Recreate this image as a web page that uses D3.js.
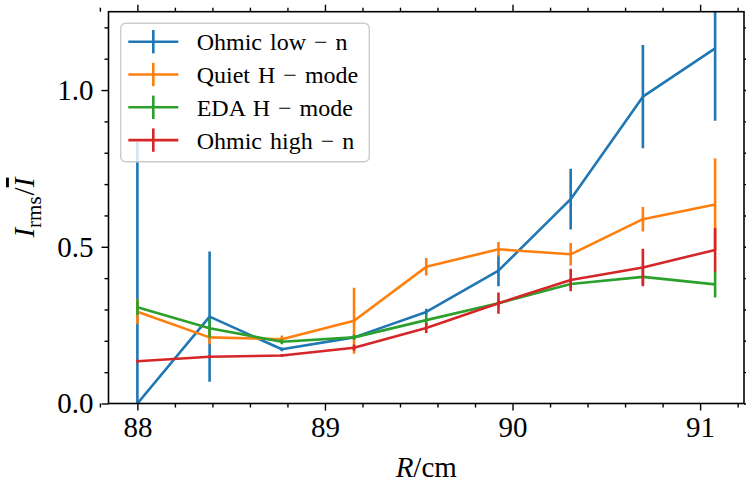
<!DOCTYPE html>
<html>
<head>
<meta charset="utf-8">
<script src="https://cdn.jsdelivr.net/npm/d3@7"></script>
<style>
  body { margin: 0; background: #fff; }
  text { font-family: "Liberation Serif", "DejaVu Serif", serif; fill: #000; }
</style>
</head>
<body>
<div id="chart"></div>
<script>
// radial positions (cm) and fluctuation levels for each regime
const radius = [88, 88.385, 88.77, 89.155, 89.54, 89.925, 90.31, 90.695, 91.08];

const ohmicLow = [0.0, 0.277, 0.173, 0.211, 0.292, 0.424, 0.652, 0.979, 1.133];
const ohmicLowErr = [0.835, 0.208, 0.006, 0.006, 0.01, 0.05, 0.097, 0.165, 0.231];

const quietH = [0.293, 0.211, 0.205, 0.264, 0.436, 0.492, 0.476, 0.588, 0.635];
const quietHErr = [0.04, 0.022, 0.012, 0.105, 0.028, 0.023, 0.036, 0.039, 0.147];

const edaH = [0.307, 0.240, 0.197, 0.211, 0.266, 0.320, 0.381, 0.404, 0.380];
const edaHErr = [0.025, 0.03, 0.008, 0.008, 0.016, 0.01, 0.012, 0.025, 0.042];

const ohmicHigh = [0.135, 0.149, 0.153, 0.178, 0.241, 0.320, 0.394, 0.434, 0.490];
const ohmicHighErr = [0.005, 0.005, 0.005, 0.01, 0.016, 0.034, 0.036, 0.06, 0.07];

const seriesNames = ["Ohmic low \u2212 n", "Quiet H \u2212 mode", "EDA H \u2212 mode", "Ohmic high \u2212 n"];
const seriesColors = ["#1f77b4", "#ff7f0e", "#2ca02c", "#d62728"];

const xTicks = [88, 89, 90, 91];
const yTicks = [0, 0.5, 1.0];

const series = [
  { values: ohmicLow, err: ohmicLowErr },
  { values: quietH, err: quietHErr },
  { values: edaH, err: edaHErr },
  { values: ohmicHigh, err: ohmicHighErr }
].map((s, i) => ({ ...s, name: seriesNames[i], color: seriesColors[i] }));

const width = 746;
const height = 484;
const plotLeft = 108.5, plotRight = 744, plotTop = 11.7, plotBottom = 403.5;
const serif = "'Liberation Serif', 'DejaVu Serif', serif";

const svg = d3.select("#chart")
  .append("svg")
  .attr("width", width)
  .attr("height", height);

// matplotlib-like 5% margins on x
const span = d3.max(radius) - d3.min(radius);
const x = d3.scaleLinear()
  .domain([d3.min(radius) - 0.05 * span, d3.max(radius) + 0.05 * span])
  .range([plotLeft, plotRight]);
const y = d3.scaleLinear().domain([0, 1.25]).range([plotBottom, plotTop]);

svg.append("clipPath").attr("id", "plot-clip")
  .append("rect")
  .attr("x", plotLeft).attr("y", plotTop)
  .attr("width", plotRight - plotLeft).attr("height", plotBottom - plotTop);

const plot = svg.append("g").attr("clip-path", "url(#plot-clip)");

const line = d3.line().x((d, i) => x(radius[i])).y(d => y(d));

series.forEach(s => {
  const g = plot.append("g");
  g.append("path")
    .datum(s.values)
    .attr("d", line)
    .attr("fill", "none")
    .attr("stroke", s.color)
    .attr("stroke-width", 2.6)
    .attr("stroke-linejoin", "round");
  g.selectAll("line.bar")
    .data(s.values)
    .enter()
    .append("line")
    .attr("class", "bar")
    .attr("x1", (d, i) => x(radius[i]))
    .attr("x2", (d, i) => x(radius[i]))
    .attr("y1", (d, i) => y(d - s.err[i]))
    .attr("y2", (d, i) => y(d + s.err[i]))
    .attr("stroke", s.color)
    .attr("stroke-width", 2.6);
});

// axes: ticks out on all four sides, minor ticks every 0.2 / 0.1
const xMinor = d3.range(87.8, 91.3, 0.2).map(v => +v.toFixed(1)).filter(v => !xTicks.includes(v));
const yMinor = d3.range(0, 1.26, 0.1).map(v => +v.toFixed(1)).filter(v => !yTicks.includes(v));

function styleAxis(g) {
  g.select(".domain").remove();
  g.selectAll("line").attr("stroke", "#000").attr("stroke-width", 1.4);
}

const tickFont = "29px";

svg.append("g").attr("transform", `translate(0,${plotBottom})`)
  .call(d3.axisBottom(x).tickValues(xTicks).tickSize(7).tickPadding(6).tickFormat(d3.format("d")))
  .call(styleAxis)
  .selectAll("text").style("font-size", tickFont).style("font-family", serif);
svg.append("g").attr("transform", `translate(0,${plotBottom})`)
  .call(d3.axisBottom(x).tickValues(xMinor).tickSize(4).tickFormat(""))
  .call(styleAxis);
svg.append("g").attr("transform", `translate(0,${plotTop})`)
  .call(d3.axisTop(x).tickValues(xTicks).tickSize(7).tickFormat(""))
  .call(styleAxis);
svg.append("g").attr("transform", `translate(0,${plotTop})`)
  .call(d3.axisTop(x).tickValues(xMinor).tickSize(4).tickFormat(""))
  .call(styleAxis);

svg.append("g").attr("transform", `translate(${plotLeft},0)`)
  .call(d3.axisLeft(y).tickValues(yTicks).tickSize(7).tickPadding(8).tickFormat(d3.format(".1f")))
  .call(styleAxis)
  .selectAll("text").style("font-size", tickFont).style("font-family", serif);
svg.append("g").attr("transform", `translate(${plotLeft},0)`)
  .call(d3.axisLeft(y).tickValues(yMinor).tickSize(4).tickFormat(""))
  .call(styleAxis);
svg.append("g").attr("transform", `translate(${plotRight},0)`)
  .call(d3.axisRight(y).tickValues(yTicks).tickSize(7).tickFormat(""))
  .call(styleAxis);
svg.append("g").attr("transform", `translate(${plotRight},0)`)
  .call(d3.axisRight(y).tickValues(yMinor).tickSize(4).tickFormat(""))
  .call(styleAxis);

// frame
svg.append("rect")
  .attr("x", plotLeft).attr("y", plotTop)
  .attr("width", plotRight - plotLeft).attr("height", plotBottom - plotTop)
  .attr("fill", "none").attr("stroke", "#000").attr("stroke-width", 1.6);

// axis labels
const xLabel = svg.append("text")
  .attr("x", (plotLeft + plotRight) / 2)
  .attr("y", 477)
  .attr("text-anchor", "middle")
  .style("font-family", serif)
  .style("font-size", "29px");
xLabel.append("tspan").style("font-style", "italic").text("R");
xLabel.append("tspan").text("/cm");

const yLabel = svg.append("text")
  .attr("transform", `translate(34,${(plotTop + plotBottom) / 2}) rotate(-90)`)
  .attr("text-anchor", "middle")
  .style("font-family", serif)
  .style("font-size", "29px");
yLabel.append("tspan").style("font-style", "italic").text("I");
yLabel.append("tspan").attr("dy", 7).style("font-size", "21px").text("rms");
yLabel.append("tspan").attr("dy", -7).attr("dx", 1).text("/");
yLabel.append("tspan").style("font-style", "italic").style("text-decoration", "overline").text("I");

// legend
const legend = svg.append("g");
legend.append("rect")
  .attr("x", 120.7).attr("y", 23.3)
  .attr("width", 248.6).attr("height", 138.4)
  .attr("rx", 5)
  .attr("fill", "#fff").attr("fill-opacity", 0.8)
  .attr("stroke", "#ccc").attr("stroke-width", 1.4);

const rows = legend.selectAll("g.row")
  .data(series)
  .enter()
  .append("g")
  .attr("class", "row")
  .attr("transform", (d, i) => `translate(0,${41.7 + i * 32.8})`);
rows.append("line")
  .attr("x1", 128.3).attr("x2", 178.3)
  .attr("stroke", d => d.color).attr("stroke-width", 2.6);
rows.append("line")
  .attr("x1", 153.3).attr("x2", 153.3)
  .attr("y1", -11.7).attr("y2", 11.7)
  .attr("stroke", d => d.color).attr("stroke-width", 2.6);
rows.append("text")
  .attr("x", 196.7)
  .attr("dy", "0.35em")
  .style("font-family", serif)
  .style("font-size", "24px")
  .style("word-spacing", "2px")
  .text(d => d.name);
</script>
</body>
</html>
